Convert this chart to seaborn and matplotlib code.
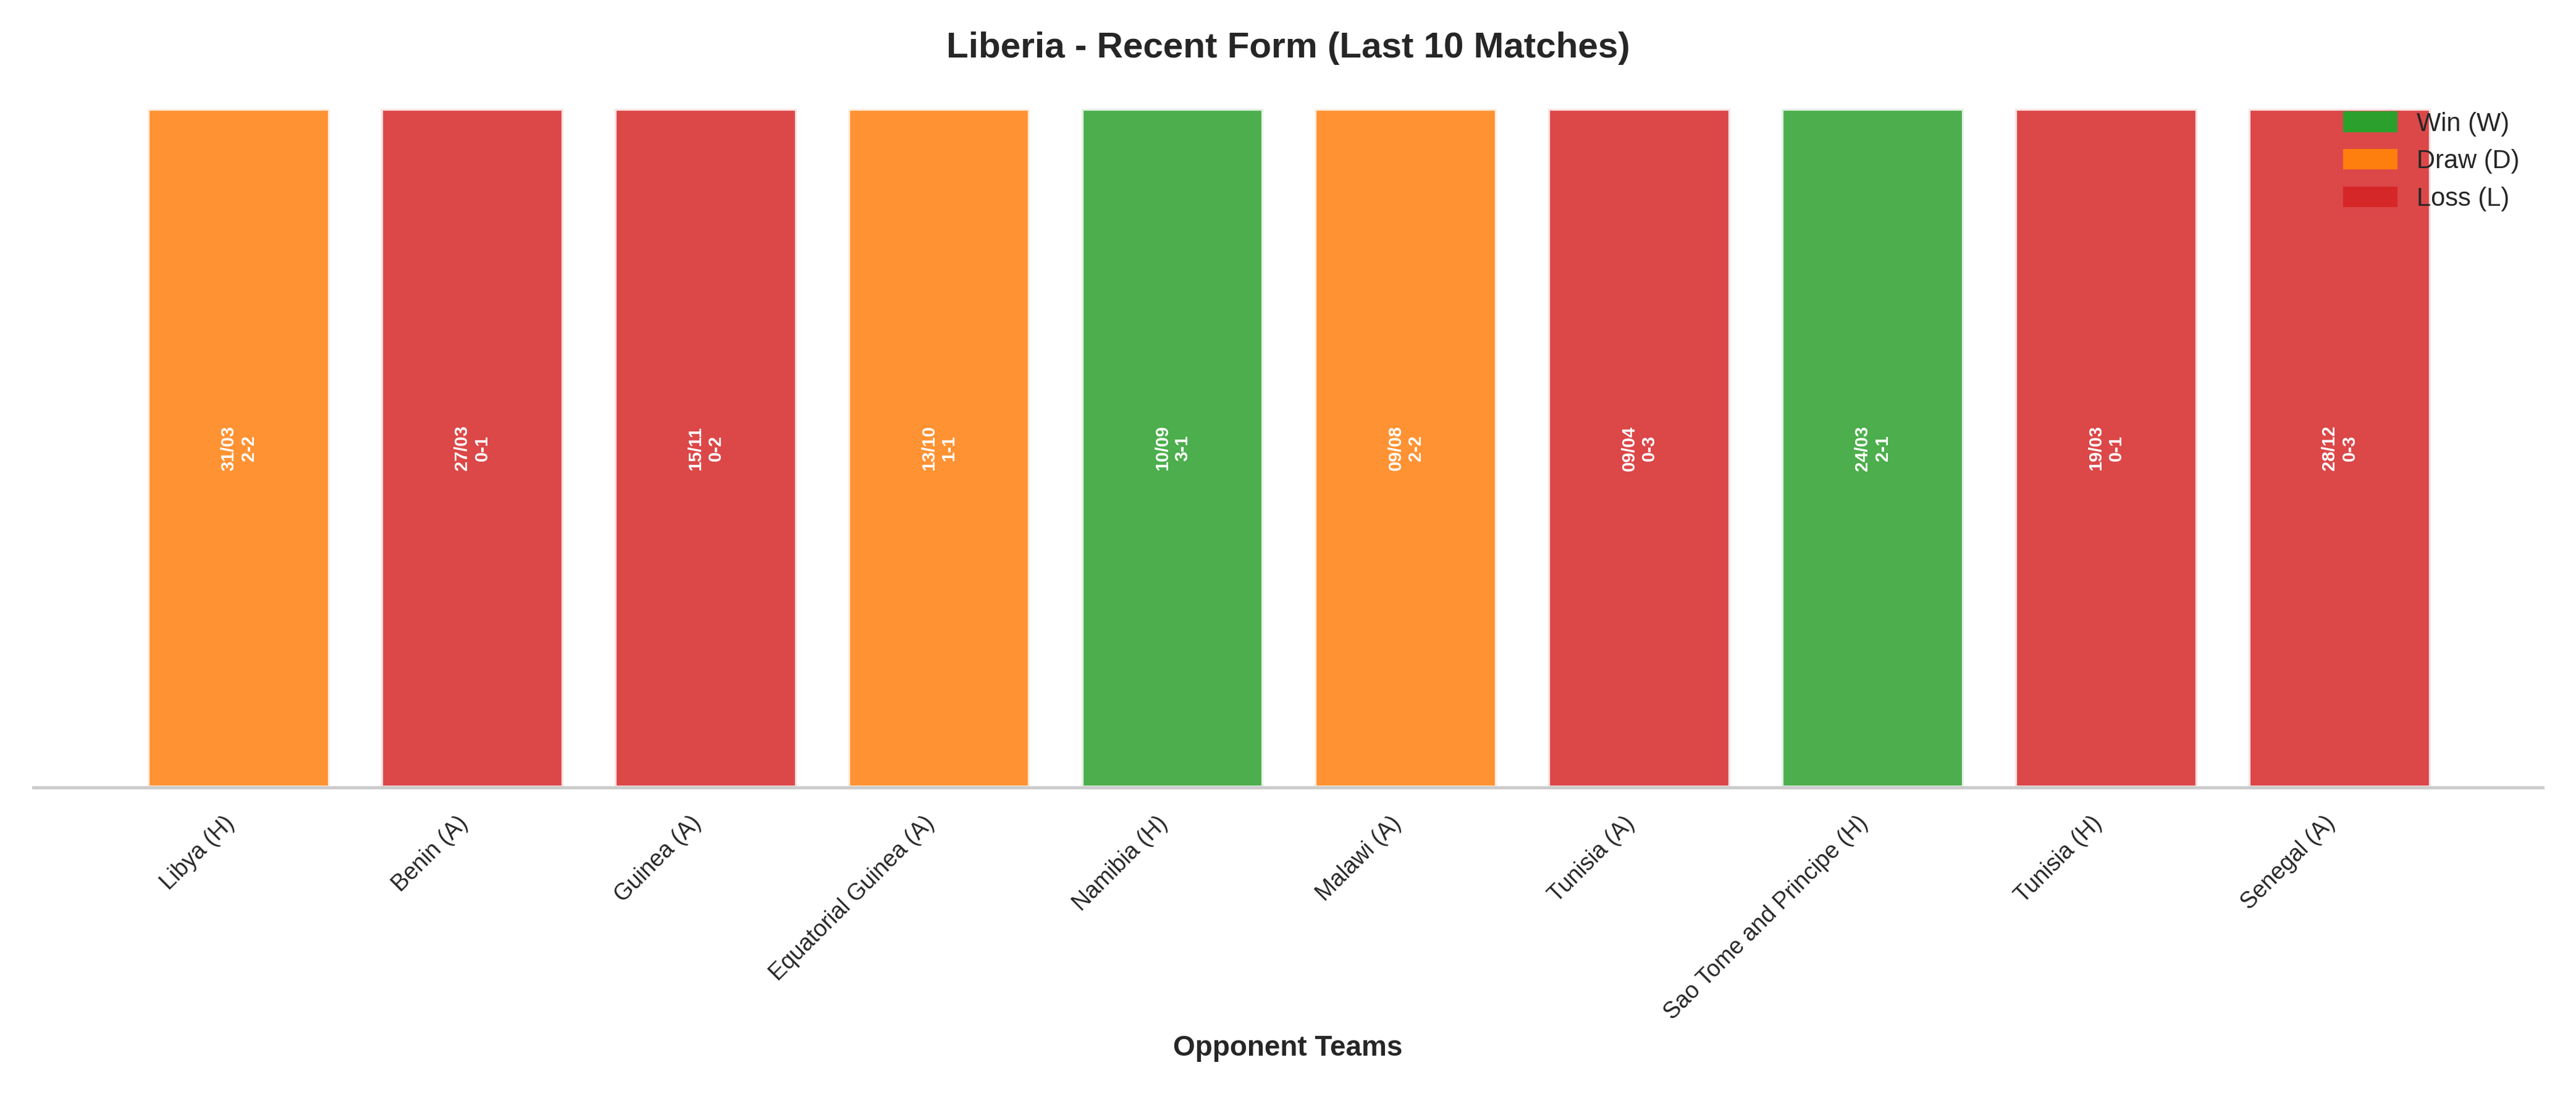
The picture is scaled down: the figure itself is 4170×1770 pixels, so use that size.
import numpy as np
import pandas as pd
import seaborn as sns
import matplotlib.pyplot as plt
from matplotlib.patches import Patch

opponents = ["Libya (H)", "Benin (A)", "Guinea (A)", "Equatorial Guinea (A)", "Namibia (H)",
             "Malawi (A)", "Tunisia (A)", "Sao Tome and Principe (H)", "Tunisia (H)", "Senegal (A)"]
dates = ["31/03", "27/03", "15/11", "13/10", "10/09", "09/08", "09/04", "24/03", "19/03", "28/12"]
scores = ["2-2", "0-1", "0-2", "1-1", "3-1", "2-2", "0-3", "2-1", "0-1", "0-3"]
results = ["D", "L", "L", "D", "W", "D", "L", "W", "L", "L"]

colors = {"W": "#2ca02c", "D": "#ff7f0e", "L": "#d62728"}

df = pd.DataFrame({"opp": opponents, "res": results, "h": 1})

sns.set_theme(style="whitegrid")
plt.rcParams['font.family'] = ['Liberation Sans', 'DejaVu Sans']
fig, ax = plt.subplots(figsize=(13.9, 5.9))
sns.barplot(data=df, x="opp", y="h", hue="opp", palette=[colors[r] for r in results],
            alpha=0.85, edgecolor="white", linewidth=1.5, legend=False, ax=ax, width=0.78,
            saturation=1)

for i, (d, s) in enumerate(zip(dates, scores)):
    ax.text(i, 0.5, f"{d}\n{s}", rotation=90, ha="center", va="center",
            color="white", fontsize=7, fontweight="bold")

ax.set_ylim(0, 1.03)
ax.set_xlim(-0.88, 9.87)
ax.set_yticks([])
ax.set_ylabel("")
ax.grid(axis="y", visible=False)
ax.set_xlabel("Opponent Teams", fontsize=11, fontweight="bold")
ax.set_title("Liberia - Recent Form (Last 10 Matches)", fontsize=14, fontweight="bold", pad=12)
plt.setp(ax.get_xticklabels(), rotation=45, ha="right", fontsize=9)
for sp in ["top", "right", "left"]:
    ax.spines[sp].set_visible(False)
ax.spines["bottom"].set_color("#cccccc")

handles = [Patch(color=colors["W"], label="Win (W)"),
           Patch(color=colors["D"], label="Draw (D)"),
           Patch(color=colors["L"], label="Loss (L)")]
ax.legend(handles=handles, loc="upper right", frameon=False, fontsize=10)

plt.tight_layout()
fig.savefig("out.png", dpi=300)
